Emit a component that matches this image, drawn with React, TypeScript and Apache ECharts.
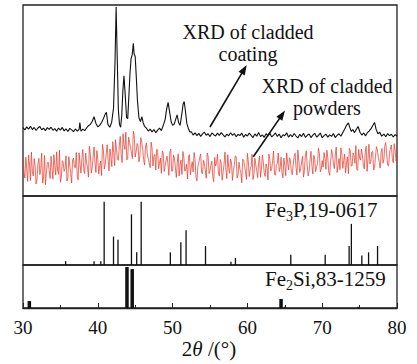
import React, { useEffect, useRef } from "react";
import * as echarts from "echarts";

// ---------- data ----------
const xTicks = [30, 40, 50, 60, 70, 80];

// XRD of cladded coating: [2θ, intensity]
const coatingPattern: [number, number][] = [
  [30.00,35.8],[30.25,34.6],[30.50,36.2],[30.75,35.0],[31.00,36.5],[31.25,34.8],[31.50,35.9],[31.75,34.3],[32.00,35.6],[32.25,36.4],
  [32.50,34.7],[32.75,35.5],[33.00,34.2],[33.25,35.8],[33.50,34.9],[33.75,36.0],[34.00,34.4],[34.25,35.3],[34.50,33.9],[34.75,35.6],
  [35.00,34.5],[35.25,35.9],[35.50,34.1],[35.75,35.2],[36.00,33.8],[36.25,35.4],[36.50,34.6],[36.75,33.7],[37.00,35.1],[37.25,34.0],
  [37.50,34.8],[37.60,38.5],[37.75,33.9],[38.00,35.0],[38.25,34.2],[38.50,35.6],[38.75,36.8],[39.00,37.5],[39.25,39.0],[39.50,41.5],
  [39.75,38.0],[40.00,36.2],[40.25,37.0],[40.50,38.5],[40.75,40.5],[41.00,43.0],[41.15,43.8],[41.35,37.5],[41.60,36.0],[41.85,38.5],
  [42.10,46.0],[42.30,70.0],[42.45,99.0],[42.60,72.0],[42.75,45.0],[42.90,37.5],[43.05,36.0],[43.20,42.0],[43.35,55.0],[43.50,63.0],
  [43.65,54.0],[43.85,41.0],[44.00,40.5],[44.15,52.0],[44.30,64.0],[44.45,72.0],[44.60,74.0],[44.75,80.0],[44.85,74.5],[45.00,73.0],
  [45.15,62.0],[45.30,50.0],[45.50,41.0],[45.70,39.0],[45.90,41.5],[46.05,38.5],[46.25,36.5],[46.50,35.5],[46.75,34.0],[47.00,35.0],
  [47.25,33.6],[47.50,34.8],[47.75,33.2],[48.00,34.5],[48.25,35.5],[48.50,34.2],[48.75,37.0],[49.00,40.0],[49.20,45.5],[49.40,49.0],
  [49.60,44.0],[49.80,39.0],[50.00,37.0],[50.20,37.5],[50.40,40.0],[50.60,42.5],[50.80,38.5],[51.00,37.0],[51.20,42.0],[51.40,48.0],
  [51.55,49.5],[51.70,45.0],[51.90,38.0],[52.10,35.5],[52.30,33.5],[52.50,33.6],
  [52.75,31.9],[53.00,33.1],[53.25,31.6],[53.50,32.8],[53.75,31.2],[54.00,32.5],[54.25,33.4],[54.50,31.8],[54.75,32.6],[55.00,31.1],
  [55.25,33.0],[55.50,32.1],[55.75,31.4],[56.00,32.9],[56.25,31.7],[56.50,33.2],[56.75,32.0],[57.00,30.9],[57.25,32.4],[57.50,31.5],
  [57.75,33.1],[58.00,31.8],[58.25,32.7],[58.50,31.0],[58.75,32.3],[59.00,31.6],[59.25,33.0],[59.50,30.8],[59.75,32.2],[60.00,31.4],
  [60.25,32.9],[60.50,31.7],[60.75,30.6],[61.00,32.5],[61.25,31.3],[61.50,33.3],[61.75,31.1],[62.00,32.0],[62.25,30.7],[62.50,32.6],
  [62.75,31.5],[63.00,32.8],[63.25,30.9],[63.50,31.9],[63.75,33.0],[64.00,31.2],[64.25,32.4],[64.50,30.5],[64.75,32.1],[65.00,31.6],
  [65.25,33.1],[65.50,30.8],[65.75,32.2],[66.00,31.0],[66.25,32.7],[66.50,31.4],[66.75,30.4],[67.00,32.3],[67.25,31.1],[67.50,32.9],
  [67.75,30.7],[68.00,31.8],[68.25,32.5],[68.50,30.6],[68.75,31.9],[69.00,32.8],[69.25,30.9],[69.50,31.7],[69.75,33.0],[70.00,30.5],
  [70.25,31.6],[70.50,32.4],[70.75,30.8],[71.00,32.0],[71.25,31.2],[71.50,32.7],[71.75,30.6],[72.00,31.8],[72.25,32.6],[72.50,31.3],
  [72.75,33.2],[73.00,35.0],[73.25,37.0],[73.50,38.3],[73.70,35.8],[73.90,33.8],[74.10,34.8],[74.30,33.2],[74.55,34.8],[74.80,36.4],
  [75.05,33.4],[75.30,31.9],[75.55,33.0],[75.80,31.5],[76.05,33.2],[76.30,34.1],[76.55,35.4],[76.80,37.2],[77.00,38.5],[77.20,35.0],
  [77.45,32.6],[77.70,33.4],[77.95,31.3],[78.25,32.4],[78.50,31.0],[78.75,32.7],[79.00,31.6],[79.25,32.3],[79.50,30.9],[79.75,32.1],
  [80.00,31.4],
];

// XRD of cladded powders: intensity read every 0.25° from 30° to 80°
const powderStart = 30;
const powderStep = 0.25;
const powderIntensity: number[] = [
  18.9,9.4,14.2,21.5,8.1,12.7,19.6,6.3,16.8,11.2,22.4,10.1,5.9,17.3,13.5,20.8,
  8.8,15.9,23.1,11.4,7.2,18.5,12.9,21.0,9.6,16.2,6.8,19.9,14.7,10.3,22.6,12.0,
  24.3,11.8,17.4,9.9,21.8,14.6,25.7,12.3,19.1,15.8,10.7,23.9,16.4,26.8,13.2,20.5,
  28.4,15.9,24.1,18.7,31.2,17.5,26.9,33.4,19.8,28.1,22.6,34.0,20.4,27.5,17.9,30.6,
  24.3,16.2,27.8,19.5,14.8,25.1,20.7,13.6,23.9,17.2,11.9,22.4,15.6,20.9,10.8,24.6,
  13.1,19.8,9.7,22.1,16.4,11.3,20.5,14.0,8.9,21.7,15.2,12.6,19.3,7.8,17.5,22.0,
  11.6,16.9,9.3,20.8,13.4,18.2,7.5,15.7,21.9,10.4,17.1,12.5,23.0,9.1,14.8,19.4,
  8.2,16.3,20.6,11.0,14.1,6.9,18.8,12.7,22.3,10.2,15.5,8.6,19.7,13.3,17.6,9.8,
  21.4,12.1,16.8,8.4,19.2,14.4,23.5,10.9,17.0,12.8,20.3,9.5,15.9,22.6,13.7,18.4,
  11.2,20.7,14.9,24.1,12.4,17.8,9.9,21.2,16.1,13.0,23.4,11.5,19.0,15.3,25.0,12.6,
  18.5,22.8,13.9,20.1,10.8,24.3,16.7,21.5,12.3,19.6,25.2,14.5,22.0,17.3,11.7,23.8,
  15.8,21.1,26.4,13.4,19.9,24.6,16.2,22.7,12.9,27.1,18.1,23.3,15.0,25.8,20.2,14.6,
  24.9,19.3,28.0,16.1,22.4,26.7,17.4,23.6,21.0,
];
// the in-between readings, at 30.125° + 0.25°·k
const powderIntensityMid: number[] = [
  12.4,20.3,7.6,16.1,23.0,10.5,15.3,8.9,19.7,13.8,6.7,21.2,11.9,17.8,9.2,15.0,
  21.7,10.9,13.6,24.0,9.8,17.4,14.3,7.9,20.6,12.2,18.9,15.1,22.8,8.5,16.6,19.8,
  13.4,22.5,15.0,26.1,12.0,20.7,17.2,23.8,11.5,18.3,27.0,14.1,21.9,18.6,24.7,15.4,
  22.8,29.5,19.2,26.3,21.7,32.6,24.4,18.9,30.8,25.2,19.6,31.7,23.1,26.6,21.0,28.3,
  19.1,25.6,22.0,17.4,28.2,15.7,21.8,24.5,14.3,19.9,23.6,12.8,18.4,16.9,22.7,13.0,
  21.5,14.7,17.6,10.5,18.8,23.3,13.0,16.6,20.4,11.1,17.9,22.8,10.0,15.4,20.1,12.3,
  18.6,13.2,22.5,11.7,16.0,10.1,20.2,17.4,12.0,19.1,8.3,16.5,13.8,21.6,11.9,17.3,
  13.5,21.0,9.4,17.7,12.2,19.3,15.6,8.7,18.0,14.2,21.8,11.3,16.2,9.6,20.9,14.0,
  17.9,10.2,14.6,21.9,13.1,18.5,11.4,16.1,22.5,14.7,12.1,19.8,10.6,17.5,20.0,12.9,
  16.3,22.4,11.0,18.2,14.5,20.8,13.3,23.7,10.5,18.9,15.7,21.3,12.8,17.0,22.1,14.2,
  15.1,19.4,24.0,12.6,17.9,21.7,14.4,25.6,16.3,13.8,22.2,18.6,12.0,20.5,24.9,15.7,
  22.6,17.1,13.9,24.4,18.8,21.4,14.2,26.0,19.5,16.8,23.0,13.6,20.7,24.2,17.6,22.9,
  17.2,26.3,21.5,15.8,25.1,19.6,27.4,18.3,
];

// Fe3P, PDF 19-0617: [2θ, relative intensity]
const fe3pLines: [number, number][] = [
  [35.7,6],[39.5,6],[40.4,6],[40.85,100],[42.1,45],[42.7,40],[44.5,80],[45.2,20],[45.8,100],
  [49.7,20],[51.1,36],[51.8,55],[54.4,30],[57.8,5],[58.4,11],[65.8,16],[70.4,16],
  [73.6,30],[73.9,65],[75.3,15],[76.2,20],[77.4,30],
];

// Fe2Si, PDF 83-1259: strong and weak lines
const fe2siStrong: [number, number][] = [[30.85,17],[43.9,100],[44.6,95],[64.5,22]];
const fe2siWeak: [number, number][] = [[55.0,2],[65.0,3],[74.8,3]];

// ---------- chart ----------
const FONT = "Liberation Serif";
const INK = "#111";

function sticks(width: number) {
  return (_params: any, api: any) => {
    const x = api.value(0);
    const base = api.coord([x, 0]);
    const top = api.coord([x, api.value(1)]);
    return {
      type: "rect",
      shape: { x: base[0] - width / 2, y: top[1], width, height: base[1] - top[1] },
      style: { fill: INK },
    };
  };
}

function arrow(x1: number, y1: number, x2: number, y2: number) {
  const dx = x2 - x1, dy = y2 - y1;
  const len = Math.sqrt(dx * dx + dy * dy);
  const ux = dx / len, uy = dy / len;
  const nx = -uy, ny = ux;
  const hl = 10, hw = 3.6;
  const bx = x2 - ux * hl, by = y2 - uy * hl;
  return [
    { type: "line", shape: { x1, y1, x2: bx + ux * 2, y2: by + uy * 2 }, style: { stroke: INK, lineWidth: 1.6 } },
    {
      type: "polygon",
      shape: { points: [[x2, y2], [bx + nx * hw, by + ny * hw], [bx - nx * hw, by - ny * hw]] },
      style: { fill: INK },
    },
  ];
}

function label(text: string, x: number, y: number, size: number, align = "center", lineHeight?: number) {
  return {
    type: "text",
    style: {
      text, x, y, fill: INK, fontSize: size, fontFamily: FONT, lineHeight,
      textAlign: align, textVerticalAlign: "middle", align, verticalAlign: "middle",
    },
  };
}

export default function App() {
  const ref = useRef<HTMLDivElement>(null);
  useEffect(() => {
    if (!ref.current) return;
    const chart = echarts.init(ref.current, undefined, { renderer: "svg" });
    const powderPattern: number[][] = [];
    powderIntensity.forEach((v, i) => {
      powderPattern.push([powderStart + i * powderStep, v]);
      if (i < powderIntensityMid.length) {
        powderPattern.push([powderStart + (i + 0.5) * powderStep, powderIntensityMid[i]]);
      }
    });
    const grids = [
      { left: 23, top: 5, width: 374, height: 191 },
      { left: 23, top: 196, width: 374, height: 69 },
      { left: 23, top: 265, width: 374, height: 43 },
    ].map((g) => ({ ...g, show: true, borderColor: "#222", borderWidth: 1.3, backgroundColor: "transparent" }));
    const hiddenX = (i: number) => ({
      type: "value", gridIndex: i, min: 30, max: 80, interval: 10,
      axisLine: { show: false }, axisTick: { show: false }, axisLabel: { show: false }, splitLine: { show: false },
    });
    const hiddenY = (i: number, max: number) => ({
      type: "value", gridIndex: i, min: 0, max,
      axisLine: { show: false }, axisTick: { show: false }, axisLabel: { show: false }, splitLine: { show: false },
    });
    chart.setOption({
      animation: false,
      backgroundColor: "#fff",
      textStyle: { fontFamily: FONT },
      grid: grids,
      xAxis: [
        hiddenX(0),
        hiddenX(1),
        {
          type: "value", gridIndex: 2, min: 30, max: 80, interval: 10,
          axisLine: { show: true, lineStyle: { color: "#222", width: 1.3 } },
          axisTick: { show: true, inside: true, length: 5, lineStyle: { color: "#222", width: 1 } },
          minorTick: { show: true, splitNumber: 2, length: 3, lineStyle: { color: "#222", width: 1 } },
          axisLabel: {
            margin: 10, color: INK, fontSize: 19, fontFamily: FONT,
            formatter: (v: number) => (xTicks.includes(v) ? String(v) : ""),
          },
          splitLine: { show: false },
        },
      ],
      yAxis: [hiddenY(0, 100), hiddenY(1, 109), hiddenY(2, 105)],
      series: [
        {
          type: "line", xAxisIndex: 0, yAxisIndex: 0, data: powderPattern, showSymbol: false,
          lineStyle: { color: "#e8392b", width: 0.8, opacity: 0.92 }, silent: true,
        },
        {
          type: "line", xAxisIndex: 0, yAxisIndex: 0, data: coatingPattern, showSymbol: false,
          lineStyle: { color: INK, width: 1.1 }, silent: true,
        },
        { type: "custom", xAxisIndex: 1, yAxisIndex: 1, data: fe3pLines, renderItem: sticks(1.3), clip: true, silent: true },
        { type: "custom", xAxisIndex: 2, yAxisIndex: 2, data: fe2siStrong, renderItem: sticks(3.5), clip: true, silent: true },
        { type: "custom", xAxisIndex: 2, yAxisIndex: 2, data: fe2siWeak, renderItem: sticks(1.2), clip: true, silent: true },
      ],
      graphic: [
        label("XRD of cladded\ncoating", 248, 42.5, 20, "center", 22),
        label("XRD of cladded\npowders", 327, 96.5, 20, "center", 22),
        ...arrow(210, 127, 246.7, 65),
        ...arrow(253.3, 156.7, 285, 110.5),
        label("Fe", 265, 209.6, 21, "left"),
        label("3", 286, 216.8, 14, "left"),
        label("P,19-0617", 293, 209.6, 21, "left"),
        label("Fe", 265, 278.6, 21, "left"),
        label("2", 286, 285.8, 14, "left"),
        label("Si,83-1259", 293, 278.6, 21, "left"),
        {
          type: "text",
          style: {
            text: "{a|2}{b|θ}{a| /(°)}", x: 209, y: 348.6, fill: INK,
            textAlign: "center", textVerticalAlign: "middle", align: "center", verticalAlign: "middle",
            rich: {
              a: { fontSize: 21, fontFamily: FONT, fill: INK, color: INK },
              b: { fontSize: 21, fontFamily: FONT, fontStyle: "italic", fill: INK, color: INK },
            },
          },
        },
      ],
    });
    return () => chart.dispose();
  }, []);
  return <div ref={ref} style={{ position: "fixed", left: 0, top: 0, width: 417, height: 364 }} />;
}
